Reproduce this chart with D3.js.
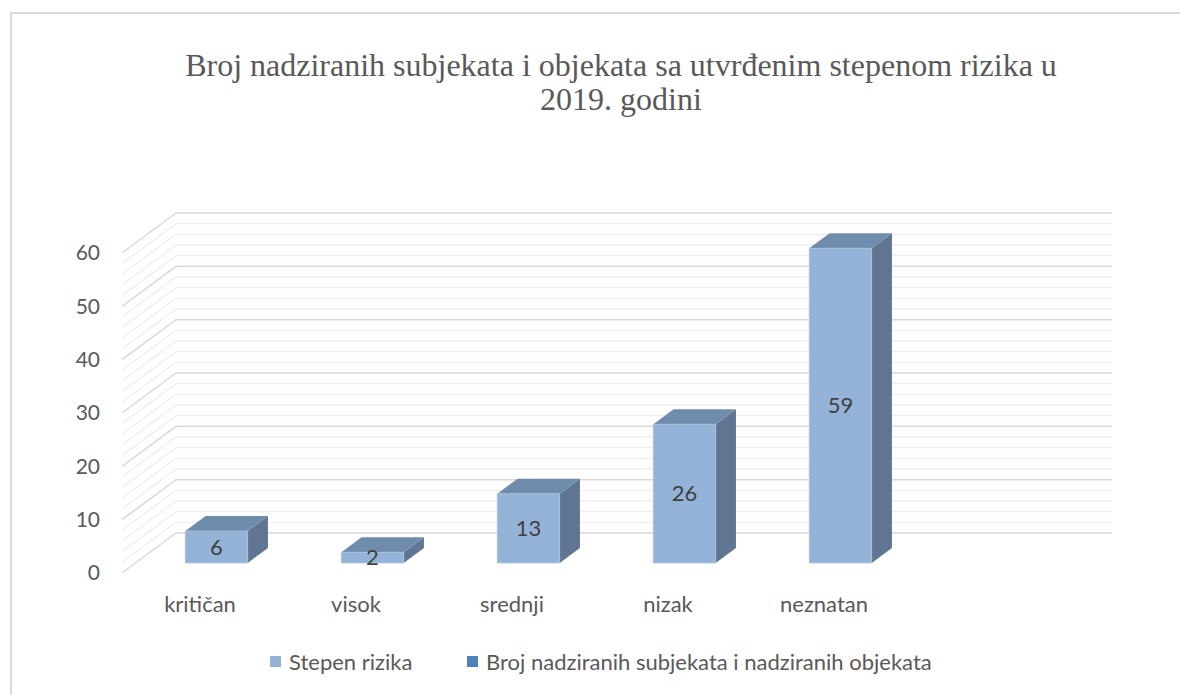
<!DOCTYPE html>
<html>
<head>
<meta charset="utf-8">
<script src="https://cdn.jsdelivr.net/npm/d3@7"></script>
<style>
  body { margin: 0; background: #fff; }
  svg text { font-family: Lato, "Noto Sans", sans-serif; fill: #595959; }
</style>
</head>
<body>
<script>
// chart data
var categories = ["kritičan", "visok", "srednji", "nizak", "neznatan"];
var values = [6, 2, 13, 26, 59];
var seriesNames = ["Stepen rizika", "Broj nadziranih subjekata i nadziranih objekata"];
var seriesColors = ["#95b3d7", "#4f81bd"];
var yTicks = [0, 10, 20, 30, 40, 50, 60];
var titleLines = ["Broj nadziranih subjekata i objekata sa utvrđenim stepenom rizika  u", "2019. godini"];

var svgWidth = 1180;
var svgHeight = 695;

// 3D depth offset of the back wall (oblique projection)
var depthX = 54;
var depthY = -40;

var svg = d3.select("body")
  .append("svg")
  .attr("width", svgWidth)
  .attr("height", svgHeight);

// chart border (only top and left visible in the crop)
svg.append("rect")
  .attr("x", 11)
  .attr("y", 13)
  .attr("width", 1240)
  .attr("height", 720)
  .attr("fill", "none")
  .attr("stroke", "#d9d9d9")
  .attr("stroke-width", 2);

// title
svg.append("text")
  .attr("x", 621)
  .attr("y", 76)
  .attr("text-anchor", "middle")
  .style("font-family", "'Liberation Serif', 'Times New Roman', serif")
  .style("font-size", "32px")
  .selectAll("tspan")
  .data(titleLines)
  .enter()
  .append("tspan")
  .attr("x", 621)
  .attr("dy", (d, i) => i === 0 ? 0 : 34)
  .text(d => d);

// scales (front plane)
var xScale = d3.scaleBand()
  .domain(categories.concat([""])) // one empty slot at the right end
  .range([122, 1058]);

var yScale = d3.scaleLinear()
  .domain([0, 60])
  .range([573, 253]);

function proj(x, y, z) {
  return [x + depthX * z, y + depthY * z];
}

// gridlines: side wall diagonal + back wall horizontal
var gridGroup = svg.append("g");
var xStart = xScale.range()[0];
var xEnd = xScale.range()[1];

yScale.ticks(30).forEach(function (v) {
  var major = v % 10 === 0;
  var y = yScale(v);
  var p0 = proj(xStart, y, 0);
  var p1 = proj(xStart, y, 1);
  var p2 = proj(xEnd, y, 1);
  gridGroup.append("path")
    .attr("d", d3.line()([p0, p1, p2]))
    .attr("fill", "none")
    .attr("stroke", major ? "#d9d9d9" : "#eeeeee")
    .attr("stroke-width", major ? 1.5 : 1.3);
});

// y axis labels
svg.append("g")
  .selectAll("text")
  .data(yTicks)
  .enter()
  .append("text")
  .attr("x", 100)
  .attr("y", d => yScale(d))
  .attr("dy", "0.35em")
  .attr("text-anchor", "end")
  .style("font-size", "21px")
  .text(d => d);

// bars
var barWidth = xScale.bandwidth() * 0.4;
var barShift = 3;
var zFront = 0.25;
var zBack = 0.625;

var bars = svg.append("g")
  .selectAll("g")
  .data(values)
  .enter()
  .append("g");

function barX(i) {
  return xScale(categories[i]) + (xScale.bandwidth() - barWidth) / 2 + barShift;
}

// side face
bars.append("path")
  .attr("d", function (d, i) {
    var x1 = barX(i) + barWidth;
    return d3.line()([
      proj(x1, yScale(0), zFront),
      proj(x1, yScale(0), zBack),
      proj(x1, yScale(d), zBack),
      proj(x1, yScale(d), zFront)
    ]) + "Z";
  })
  .attr("fill", "#5f7591");

// top face
bars.append("path")
  .attr("d", function (d, i) {
    var x0 = barX(i);
    var x1 = x0 + barWidth;
    var y = yScale(d);
    return d3.line()([
      proj(x0, y, zFront),
      proj(x1, y, zFront),
      proj(x1, y, zBack),
      proj(x0, y, zBack)
    ]) + "Z";
  })
  .attr("fill", "#708cad");

// front face
bars.append("path")
  .attr("d", function (d, i) {
    var x0 = barX(i);
    var x1 = x0 + barWidth;
    return d3.line()([
      proj(x0, yScale(0), zFront),
      proj(x1, yScale(0), zFront),
      proj(x1, yScale(d), zFront),
      proj(x0, yScale(d), zFront)
    ]) + "Z";
  })
  .attr("fill", seriesColors[0])
  .attr("stroke", "#a9c2e0")
  .attr("stroke-width", 0.8);

// data labels
bars.append("text")
  .attr("x", (d, i) => proj(barX(i) + barWidth / 2, 0, zFront)[0])
  .attr("y", d => proj(0, (yScale(0) + yScale(d)) / 2, zFront)[1])
  .attr("dy", "0.35em")
  .attr("text-anchor", "middle")
  .style("font-size", "22px")
  .style("fill", "#404040")
  .text(d => d);

// category labels
svg.append("g")
  .selectAll("text")
  .data(categories)
  .enter()
  .append("text")
  .attr("x", d => xScale(d) + xScale.bandwidth() / 2)
  .attr("y", 612)
  .attr("text-anchor", "middle")
  .style("font-size", "22px")
  .text(d => d);

// legend
var legendX = [270, 467];
var legend = svg.append("g")
  .selectAll("g")
  .data(seriesNames)
  .enter()
  .append("g")
  .attr("transform", (d, i) => `translate(${legendX[i]}, 662)`);

legend.append("rect")
  .attr("x", 0)
  .attr("y", -6)
  .attr("width", 11)
  .attr("height", 11)
  .attr("fill", (d, i) => seriesColors[i]);

legend.append("text")
  .attr("x", 19)
  .attr("y", 0)
  .attr("dy", "0.35em")
  .style("font-size", "22px")
  .text(d => d);
</script>
</body>
</html>
